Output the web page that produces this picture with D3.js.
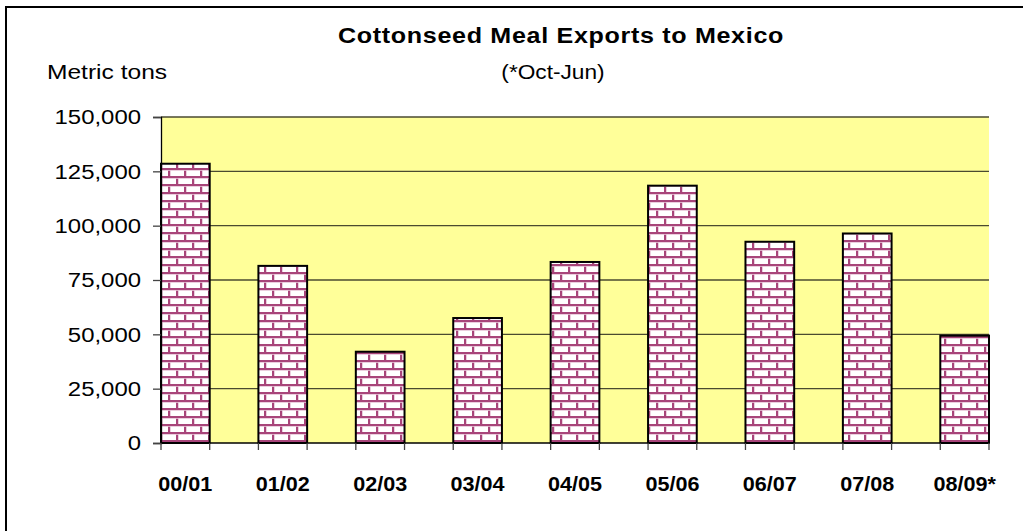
<!DOCTYPE html>
<html><head><meta charset="utf-8">
<script src="https://cdn.jsdelivr.net/npm/d3@7/dist/d3.min.js"></script>
<style>body{margin:0;background:#fff}svg{display:block;font-family:"Liberation Sans",Arial,sans-serif}</style>
</head><body><svg id="c" width="1023" height="531"></svg>
<script>
const categories = ["00/01","01/02","02/03","03/04","04/05","05/06","06/07","07/08","08/09*"];
const exportsTons = [128500, 81500, 42000, 57500, 83300, 118400, 92600, 96400, 49400];
const yTicks = [0, 25000, 50000, 75000, 100000, 125000, 150000];
const title = "Cottonseed Meal Exports to Mexico";
const subtitle = "(*Oct-Jun)";
const yLabel = "Metric tons";

(function(){
const svg = d3.select("#c");
const pLeft = 161, pRight = 989, pTop = 117, pBottom = 443;
const SX = 1.14;
function stretch(sel, sx){
  sel.each(function(){
    const t = d3.select(this);
    const x0 = +t.attr("x") || 0, y0 = +t.attr("y") || 0;
    t.attr("x",0).attr("y",0).attr("transform",`translate(${x0},${y0}) scale(${sx},1)`);
  });
}

// pattern
const defs = svg.append("defs");
const pat = defs.append("pattern").attr("id","brick").attr("patternUnits","userSpaceOnUse")
  .attr("width",16).attr("height",16).attr("x",0).attr("y",0);
pat.append("rect").attr("width",16).attr("height",16).attr("fill","#fff");
const mortar = "#a8457a";
[[0,0,16,2],[0,8,16,2],[0,0,2,8],[8,8,2,8]].forEach(r=>{
  pat.append("rect").attr("x",r[0]).attr("y",r[1]).attr("width",r[2]).attr("height",r[3]).attr("fill",mortar);
});
[[0,2,16,0.8],[0,10,16,0.8],[2,2,0.8,6],[10,10,0.8,6]].forEach(r=>{
  pat.append("rect").attr("x",r[0]).attr("y",r[1]).attr("width",r[2]).attr("height",r[3]).attr("fill","#e6c3d6");
});

// outer border
svg.append("rect").attr("x",6).attr("y",7).attr("width",1100).attr("height",600)
  .attr("fill","none").attr("stroke","#000").attr("stroke-width",2);

// scales: 17 slots, bars on even slots
const slots = d3.range(categories.length*2-1);
const x = d3.scaleBand().domain(slots).range([pLeft,pRight]).padding(0);
const y = d3.scaleLinear().domain([0,150000]).range([pBottom,pTop]);

svg.append("rect").attr("x",pLeft).attr("y",pTop).attr("width",pRight-pLeft).attr("height",pBottom-pTop).attr("fill","#ffff99");

// gridlines
svg.append("g").selectAll("line").data(yTicks.filter(d=>d>0)).join("line")
  .attr("x1",pLeft).attr("x2",pRight).attr("y1",d=>y(d)).attr("y2",d=>y(d))
  .attr("stroke","#4a4a30").attr("stroke-width",1.3);

// bars
svg.append("g").selectAll("rect").data(exportsTons).join("rect")
  .attr("x",(d,i)=>x(i*2)).attr("width",x.bandwidth())
  .attr("y",d=>y(d)).attr("height",d=>pBottom-y(d))
  .attr("fill","url(#brick)").attr("stroke","#000").attr("stroke-width",2);

// y axis
const ya = svg.append("g").attr("transform",`translate(${pLeft},0)`)
  .call(d3.axisLeft(y).tickValues(yTicks).tickFormat(d3.format(",")).tickSizeOuter(0).tickSize(8).tickPadding(12));
ya.select(".domain").attr("stroke","#000").attr("stroke-width",1.3);
ya.selectAll(".tick line").attr("stroke","#444").attr("stroke-width",1.3);
ya.selectAll("text").attr("font-size",21).attr("fill","#000").attr("font-family","Liberation Sans, Arial");
stretch(ya.selectAll(".tick text"), SX);

// x axis
const xa = svg.append("g").attr("transform",`translate(0,${pBottom})`);
xa.append("line").attr("x1",pLeft).attr("x2",pRight).attr("stroke","#000").attr("stroke-width",1.5);
const tickPos = slots.map(s=>x(s)).concat([pRight]);
xa.selectAll("line.t").data(tickPos).join("line").attr("class","t")
  .attr("x1",d=>d).attr("x2",d=>d).attr("y1",0).attr("y2",7).attr("stroke","#444").attr("stroke-width",1.3);
const xl = xa.selectAll("text").data(categories).join("text")
  .attr("x",(d,i)=>x(i*2)+x.bandwidth()/2).attr("y",48)
  .attr("text-anchor","middle").attr("font-size",20).attr("font-weight","bold").text(d=>d);
stretch(xl, 1.08);

// titles
const t1 = svg.append("text").attr("x",561).attr("y",43).attr("text-anchor","middle")
  .attr("font-size",22).attr("font-weight","bold").attr("letter-spacing",0.6).text(title);
const t2 = svg.append("text").attr("x",553).attr("y",79).attr("text-anchor","middle")
  .attr("font-size",21).text(subtitle);
const t3 = svg.append("text").attr("x",47).attr("y",79).attr("font-size",21).text(yLabel);
stretch(t1, SX); stretch(t2, 1.08); stretch(t3, 1.17);
})();
</script></body></html>
